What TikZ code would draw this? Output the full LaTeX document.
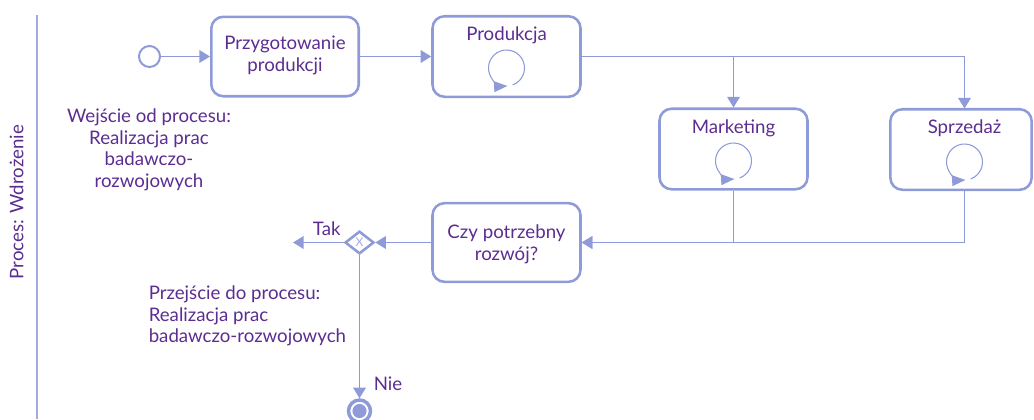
\documentclass[tikz,border=0pt]{standalone}
\usepackage{fontspec}
\setmainfont{Lato}
\usetikzlibrary{arrows.meta,shapes.geometric,calc}

\definecolor{flow}{HTML}{8E9BD8}
\definecolor{ink}{HTML}{5C2D91}
\definecolor{lanecol}{HTML}{A3ABDD}
\definecolor{gwmark}{HTML}{A3ABE0}

\tikzset{
  every node/.style={font=\fontsize{14}{16.1}\selectfont, text=ink, inner sep=0pt},
  taskbox/.style={draw=flow, line width=1.9pt, rounded corners=9pt,
    minimum width=111pt, minimum height=60.4pt, align=center},
  lbl/.style={align=center},
  flowline/.style={draw=flow, line width=1.1pt},
  flowarrow/.style={flowline, -{Triangle[length=8pt,width=9.5pt]}},
  startev/.style={circle, draw=flow, line width=1.5pt, minimum size=15.75pt},
  endev/.style={circle, draw=flow, line width=2.6pt, minimum size=16.5pt},
  xorgw/.style={diamond, draw=flow, line width=1.9pt, fill=white,
    minimum width=21.75pt, minimum height=17pt,
    font=\fontsize{9}{9}\selectfont, text=gwmark},
  loopmark/.pic={
    \draw[draw=flow, fill=none, line width=0.8pt, -{Triangle[length=10pt,width=8pt,fill=flow]}]
      (-70:13.5pt) arc[start angle=-70, end angle=273, radius=13.5pt];
  }
}

\begin{document}
\begin{tikzpicture}[x=0.75pt, y=-0.75pt]
  \useasboundingbox (0,0) rectangle (1034,419);

  % swimlane
  \draw[draw=lanecol, line width=1.1pt] (37,15) -- (37,419);
  \node[rotate=90] (lane) at (16.5,202) {Proces: Wdrożenie};

  % events and tasks
  \node[startev] (start) at (149.5,56.5) {};
  \node[taskbox, minimum width=110.6pt, minimum height=59.6pt] (prep) at (285,56.5) {};
  \node[taskbox] (prod) at (506.5,56.5) {};
  \node[taskbox] (mkt) at (733.5,149) {};
  \node[taskbox, minimum width=106pt] (spr) at (961,149.5) {};
  \node[taskbox, minimum height=59pt] (czy) at (506.5,242.5) {};
  \node[xorgw] (gw) at (359.5,242.5) {X};
  \node[endev] (end) at (359.5,411) {};
  \fill[flow] (end.center) circle[radius=5.3pt];

  % task texts (base = baseline of the last line)
  \node[lbl, anchor=base] (prepT) at (285,71) {Przygotowanie\\produkcji};
  \node[anchor=base] (prodT) at (506.5,40) {Produkcja};
  \node[anchor=base] (mktT) at (733.5,133.3) {Marketing};
  \node[anchor=base] (sprT) at (964.5,133.3) {Sprzedaż};
  \node[lbl, anchor=base] (czyT) at (506.5,260) {Czy potrzebny\\rozwój?};

  % loop markers
  \pic at (506.5,68) {loopmark};
  \pic at (733.5,161) {loopmark};
  \pic at (964.5,162) {loopmark};

  % annotations
  \node[lbl, anchor=base] (inT) at (149,187.3)
    {Wejście od procesu:\\Realizacja prac\\badawczo-\\rozwojowych};
  \node[align=left, anchor=base west] (outT) at (148.5,342.7)
    {Przejście do procesu:\\Realizacja prac\\badawczo-rozwojowych};
  \node[anchor=base] (takT) at (326.7,235) {Tak};
  \node[anchor=base] (nieT) at (388,390) {Nie};

  % sequence flows
  \coordinate (sprN) at (964.5,108.5);
  \coordinate (sprS) at (964.5,190.5);
  \coordinate (takEnd) at (293,242.5);

  \draw[flowarrow] (start) -- (prep);
  \draw[flowarrow] (prep) -- (prod);
  \draw[flowarrow] (prod.east) -| (mkt.north);
  \draw[flowarrow] (prod.east) -| (sprN);
  \draw[flowarrow] (mkt.south) |- (czy.east);
  \draw[flowarrow] (sprS) |- (czy.east);
  \draw[flowarrow] (czy) -- (gw);
  \draw[flowarrow] (gw) -- (takEnd);
  \draw[flowarrow] (gw) -- (end);
\end{tikzpicture}
\end{document}
